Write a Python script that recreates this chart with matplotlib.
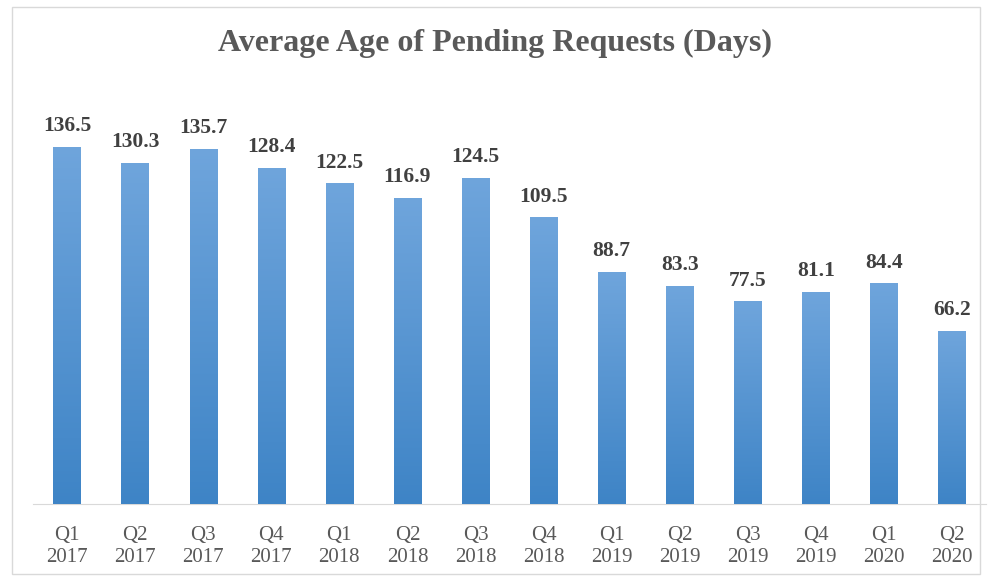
import matplotlib.pyplot as plt
import numpy as np
from matplotlib.colors import LinearSegmentedColormap
from matplotlib.patches import Rectangle

quarters = ['Q1', 'Q2', 'Q3', 'Q4', 'Q1', 'Q2', 'Q3', 'Q4',
            'Q1', 'Q2', 'Q3', 'Q4', 'Q1', 'Q2']
years = ['2017', '2017', '2017', '2017', '2018', '2018', '2018', '2018',
         '2019', '2019', '2019', '2019', '2020', '2020']
avg_age = [136.5, 130.3, 135.7, 128.4, 122.5, 116.9, 124.5, 109.5,
           88.7, 83.3, 77.5, 81.1, 84.4, 66.2]

plt.rcParams['font.family'] = ['Liberation Serif', 'DejaVu Serif']

fig = plt.figure(figsize=(9.9, 5.81), dpi=100)
W, H = 990, 581
ax = fig.add_axes([33 / W, 1 - 504 / H, 953 / W, (504 - 85) / H])

x = np.arange(len(avg_age))
bars = ax.bar(x, avg_age, width=0.4, color='#5b9bd5', zorder=2)

# vertical gradient inside each bar, lighter at the top
grad = np.linspace(0, 1, 256).reshape(-1, 1)
cmap = LinearSegmentedColormap.from_list('g', ['#3e84c6', '#6fa5dc'])
for b in bars:
    x0, w, h = b.get_x(), b.get_width(), b.get_height()
    im = ax.imshow(grad, cmap=cmap, aspect='auto', origin='lower',
                   extent=[x0, x0 + w, 0, h], zorder=3)
    im.set_clip_path(b)

for xi, v in zip(x, avg_age):
    ax.text(xi, v + 4, f'{v:.1f}', ha='center', va='bottom',
            fontsize=15.5, fontweight='bold', color='#404040')

ax.set_xlim(-0.5, len(avg_age) - 0.5)
ax.set_ylim(0, 160)
ax.set_xticks(x)
ax.set_xticklabels([f'{q}\n{y}' for q, y in zip(quarters, years)],
                   fontsize=15, color='#595959', linespacing=1.2)
ax.tick_params(axis='x', length=0, pad=16)
ax.set_yticks([])
for s in ['top', 'right', 'left']:
    ax.spines[s].set_visible(False)
ax.spines['bottom'].set_color('#d9d9d9')

fig.text(0.5, 1 - 43 / H, 'Average Age of Pending Requests (Days)',
         ha='center', va='center', fontsize=23, fontweight='bold',
         color='#595959')

fig.patches.append(Rectangle((12 / W, 1 - 574 / H), 968 / W, 567 / H,
                             transform=fig.transFigure, fill=False,
                             edgecolor='#d9d9d9', linewidth=1))

fig.savefig('out.png', dpi=100)
